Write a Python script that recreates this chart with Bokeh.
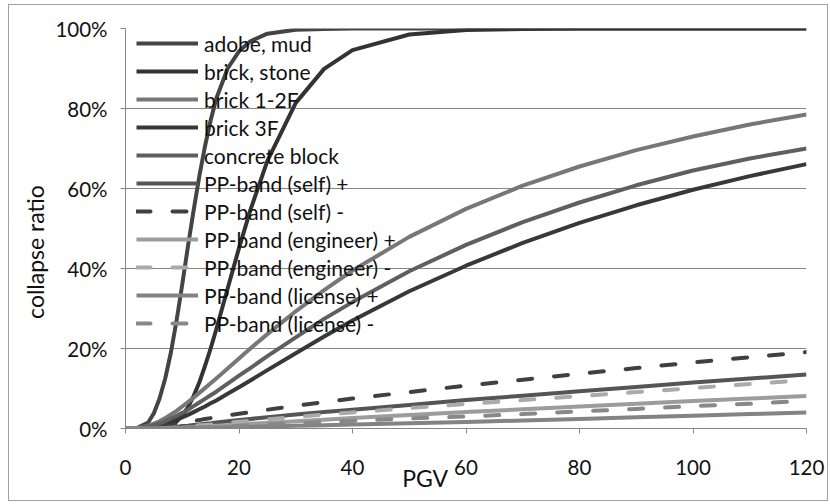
from bokeh.plotting import figure
from bokeh.models import Range1d, Legend, LegendItem, PrintfTickFormatter, FixedTicker
from bokeh.embed import file_html
from bokeh.resources import INLINE

# ---------------- data ----------------
pgv = [0, 2, 4, 5, 6, 7, 8, 9, 10, 11, 12, 13, 14, 15, 16, 18, 20, 22, 25, 30,
       35, 40, 50, 60, 70, 80, 90, 100, 110, 120]

adobe_mud = [0, 0.1, 1.5, 3.8, 7.5, 12.5, 19.0, 27.0, 36.0, 45.5, 54.5, 63.0, 70.5, 77.0, 82.5, 90.0,
             94.3, 96.8, 98.7, 99.7, 99.9, 100, 100, 100, 100, 100, 100, 100, 100, 100]
brick_stone = [0, 0, 0, 0, 0.1, 0.3, 0.8, 1.7, 3.2, 5.3, 8.1, 11.5, 15.6, 20.0, 24.8, 35.0,
               45.1, 54.6, 66.9, 81.4, 89.9, 94.6, 98.5, 99.6, 99.9, 100, 100, 100, 100, 100]
brick_12f = [0, 0.1, 0.7, 1.2, 1.8, 2.6, 3.5, 4.4, 5.5, 6.6, 7.7, 8.9, 10.1, 11.3, 12.5, 15.0,
             17.5, 20.0, 23.6, 29.3, 34.6, 39.5, 47.9, 54.9, 60.7, 65.5, 69.6, 73.0, 76.0, 78.5]
brick_3f = [0, 0, 0.3, 0.5, 0.8, 1.2, 1.7, 2.2, 2.8, 3.4, 4.1, 4.8, 5.5, 6.3, 7.0, 8.7,
            10.3, 12.0, 14.6, 18.8, 23.0, 27.0, 34.3, 40.7, 46.4, 51.4, 55.8, 59.7, 63.1, 66.1]
concrete_block = [0, 0.1, 0.5, 0.8, 1.3, 1.8, 2.5, 3.2, 3.9, 4.7, 5.6, 6.5, 7.4, 8.3, 9.2, 11.2,
                  13.2, 15.1, 18.1, 22.8, 27.4, 31.6, 39.3, 45.9, 51.6, 56.5, 60.8, 64.5, 67.5, 70.0]
pp_self_plus = [0, 0, 0, 0, 0.1, 0.2, 0.3, 0.4, 0.6, 0.7, 0.9, 1.0, 1.2, 1.3, 1.5, 1.8,
                2.1, 2.4, 2.8, 3.5, 4.1, 4.7, 5.9, 7.1, 8.2, 9.3, 10.4, 11.5, 12.5, 13.5]
pp_self_minus = [0, 0, 0, 0.1, 0.3, 0.5, 0.7, 1.0, 1.3, 1.6, 1.9, 2.1, 2.4, 2.6, 2.9, 3.3,
                 3.7, 4.1, 4.7, 5.7, 6.6, 7.5, 9.1, 10.7, 12.2, 13.7, 15.1, 16.5, 17.8, 19.1]
pp_eng_plus = [0, 0, 0, 0, 0, 0.05, 0.1, 0.1, 0.2, 0.3, 0.3, 0.4, 0.5, 0.6, 0.7, 0.8,
               1.0, 1.2, 1.4, 1.8, 2.2, 2.6, 3.4, 4.1, 4.8, 5.5, 6.2, 6.9, 7.5, 8.1]
pp_eng_minus = [0, 0, 0, 0, 0.1, 0.1, 0.2, 0.3, 0.4, 0.5, 0.7, 0.8, 0.9, 1.0, 1.2, 1.4,
                1.7, 1.9, 2.3, 2.9, 3.5, 4.0, 5.1, 6.1, 7.1, 8.1, 9.1, 10.1, 11.1, 12.1]
pp_lic_plus = [0, 0, 0, 0, 0, 0, 0, 0, 0.05, 0.1, 0.1, 0.1, 0.2, 0.2, 0.2, 0.3,
               0.3, 0.4, 0.5, 0.7, 0.8, 1.0, 1.3, 1.6, 2.0, 2.4, 2.8, 3.2, 3.6, 4.0]
pp_lic_minus = [0, 0, 0, 0, 0, 0, 0.05, 0.1, 0.1, 0.2, 0.2, 0.3, 0.3, 0.4, 0.4, 0.5,
                0.7, 0.8, 1.0, 1.3, 1.6, 1.9, 2.5, 3.0, 3.6, 4.3, 4.9, 5.6, 6.2, 6.9]

series_names = ["adobe, mud", "brick, stone", "brick 1-2F", "brick 3F", "concrete block",
                "PP-band (self) +", "PP-band (self) -", "PP-band (engineer) +",
                "PP-band (engineer) -", "PP-band (license) +", "PP-band (license) -"]
series_values = [adobe_mud, brick_stone, brick_12f, brick_3f, concrete_block,
                 pp_self_plus, pp_self_minus, pp_eng_plus, pp_eng_minus, pp_lic_plus, pp_lic_minus]

x_ticks = [0, 20, 40, 60, 80, 100, 120]
y_ticks = [0, 20, 40, 60, 80, 100]
x_title = "PGV"
y_title = "collapse ratio"

# ---------------- styles ----------------
colors = ["#444444", "#333333", "#777777", "#383838", "#5f5f5f",
          "#555555", "#404040", "#9c9c9c", "#aaaaaa", "#838383", "#888888"]
dashed = [False, False, False, False, False, False, True, False, True, False, True]
FONT = "Lato"
GRID = "#868686"

p = figure(width=820, height=497, output_backend="svg", toolbar_location=None,
           x_range=Range1d(0, 120), y_range=Range1d(0, 100),
           min_border_left=116, min_border_right=23, min_border_top=23, min_border_bottom=74)
p.styles = {"border": "1px solid #a0a0a0", "margin-left": "8px", "margin-top": "4px"}
p.outline_line_color = None
p.background_fill_color = "white"
p.border_fill_color = "white"

p.xaxis.ticker = FixedTicker(ticks=x_ticks)
p.yaxis.ticker = FixedTicker(ticks=y_ticks)
p.yaxis.formatter = PrintfTickFormatter(format="%d%%")
for ax in (p.xaxis[0], p.yaxis[0]):
    ax.axis_line_color = GRID
    ax.axis_line_width = 1
    ax.major_tick_line_color = GRID
    ax.major_tick_in = 0
    ax.major_tick_out = 5
    ax.minor_tick_line_color = None
    ax.major_label_text_font = FONT
    ax.major_label_text_font_size = "20.5px"
    ax.major_label_text_color = "#111111"
    ax.axis_label_text_font = FONT
    ax.axis_label_text_font_size = "23px"
    ax.axis_label_text_font_style = "normal"
    ax.axis_label_text_color = "#111111"
p.xaxis.major_label_standoff = 26
p.yaxis.major_label_standoff = 13

# axis titles; trailing no-break spaces move them off-centre like the reference
xa = p.xaxis[0]
xa.axis_label = x_title + "\u00a0" * 14
xa.axis_label_standoff = -14
ya = p.yaxis[0]
ya.axis_label = y_title + "\u00a0" * 8
ya.axis_label_standoff = 3

p.xgrid.visible = False
p.ygrid.ticker = FixedTicker(ticks=y_ticks)
p.ygrid.grid_line_color = GRID
p.ygrid.grid_line_width = 1

items = []
for name, vals, col, dsh in zip(series_names, series_values, colors, dashed):
    if dsh:
        r = p.line(pgv, vals, line_color=col, line_width=4, line_dash="14 22", line_cap="round",
                   line_join="round")
    else:
        r = p.line(pgv, vals, line_color=col, line_width=4, line_join="round")
    items.append(LegendItem(label=name, renderers=[r]))

legend = Legend(items=items, location=(11, 92), padding=5, spacing=2, glyph_height=26,
                label_height=26, glyph_width=62, label_standoff=6,
                background_fill_alpha=0, border_line_color=None,
                label_text_font=FONT, label_text_font_size="21px", label_text_color="#111111")
p.add_layout(legend)

open("out.html", "w").write(file_html(p, INLINE))
